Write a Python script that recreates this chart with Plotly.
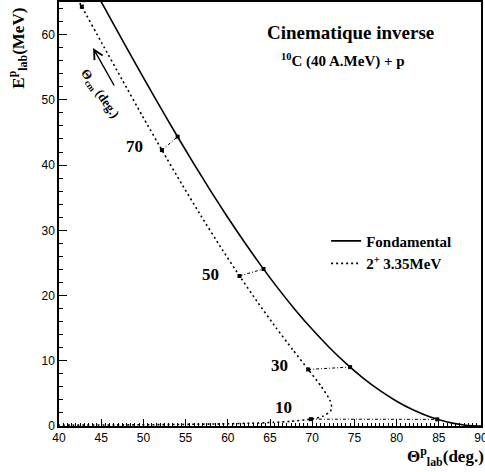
import plotly.graph_objects as go

# Ground-state (elastic) recoil proton: lab angle (deg) and lab energy (MeV)
theta_gs = [43, 44, 45, 46, 48, 50, 52, 54, 56, 58, 60, 62, 64, 66, 68, 70,
            72, 74, 76, 78, 80, 82, 84, 86, 88, 89, 90]
energy_gs = [69.74, 67.37, 65.03, 62.69, 58.02, 53.42, 48.88, 44.46, 40.15, 35.98,
             31.96, 28.12, 24.47, 21.02, 17.80, 14.82, 12.08, 9.60, 7.38, 5.45,
             3.80, 2.44, 1.37, 0.61, 0.15, 0.04, 0.0]

# 2+ 3.35 MeV state: both kinematic branches, ordered along the centre-of-mass angle
theta_ex = [35.66, 41.68, 46.64, 54.08, 59.20, 62.81, 65.43, 67.35, 69.85, 71.24,
            72.16, 72.31, 72.10, 71.06, 69.52, 67.70, 65.70, 63.59, 61.39, 59.14,
            56.85, 54.53, 52.19, 49.83, 47.47, 45.09, 42.71, 41.76]
energy_ex = [0.115, 0.137, 0.164, 0.232, 0.320, 0.428, 0.554, 0.701, 1.051, 1.478,
             2.263, 2.880, 3.946, 6.089, 8.674, 11.682, 15.091, 18.873, 23.001, 27.442,
             32.164, 37.131, 42.303, 47.643, 53.109, 58.660, 64.253, 66.49]

# Equal centre-of-mass angle points on each curve
theta_cm = [10, 30, 50, 70, 90]
cm_theta_gs = [84.81, 74.49, 64.23, 54.06, 44.00]
cm_energy_gs = [1.02, 9.03, 24.07, 44.36, 67.37]
cm_theta_ex = [69.85, 69.52, 61.39, 52.19, 42.71]
cm_energy_ex = [1.05, 8.67, 23.00, 42.30, 64.25]

# Where the theta_cm values are written
label_theta = [66.6, 66.1, 58.0, 49.0]
label_energy = [2.9, 9.2, 23.2, 42.9]

SERIF = "Liberation Serif"
SANS = "Liberation Sans"

fig = go.Figure()

fig.add_trace(go.Scatter(
    x=theta_gs, y=energy_gs, mode="lines", name="<b>Fondamental</b>",
    line=dict(color="black", width=1.6, shape="spline", smoothing=0.6),
))
fig.add_trace(go.Scatter(
    x=theta_ex, y=energy_ex, mode="lines", name="<b>2<sup>+</sup> 3.35MeV</b>",
    line=dict(color="black", width=1.6, dash="2px,3px", shape="spline", smoothing=0.6),
))

# dash-dot links joining equal theta_cm on the two curves
link_x, link_y = [], []
for xa, ya, xb, yb in zip(cm_theta_ex, cm_energy_ex, cm_theta_gs, cm_energy_gs):
    link_x += [xa, xb, None]
    link_y += [ya, yb, None]
fig.add_trace(go.Scatter(
    x=link_x, y=link_y, mode="lines", showlegend=False, hoverinfo="skip",
    line=dict(color="black", width=1, dash="3px,2px,1px,2px"),
))
fig.add_trace(go.Scatter(
    x=cm_theta_gs + cm_theta_ex, y=cm_energy_gs + cm_energy_ex, mode="markers",
    showlegend=False, cliponaxis=True,
    marker=dict(symbol="square", size=4, color="black"),
))


def note(x, y, text, size, angle=0, ref="paper"):
    fig.add_annotation(x=x, y=y, xref=ref, yref=ref, text=text, textangle=angle,
                       showarrow=False, xanchor="center", yanchor="middle",
                       font=dict(family=SERIF, size=size, color="black"))


for t, lx, ly in zip(theta_cm, label_theta, label_energy):
    note(lx, ly, f"<b>{t}</b>", 17, ref=None)

# centre-of-mass angle direction arrow and its caption
fig.add_annotation(x=0.0806, y=0.8915, xref="paper", yref="paper", text="",
                   showarrow=True, arrowhead=5, arrowsize=1.3, arrowwidth=1.4,
                   arrowcolor="black", ax=22, ay=39)
note(0.096, 0.785, "<b>Θ<sub>cm</sub> (deg.)</b>", 13, angle=55)

note(0.690, 0.929, "<b>Cinematique inverse</b>", 19)
note(0.673, 0.861, "<b><sup>10</sup>C (40 A.MeV) + p</b>", 15)

# axis titles
note(-0.097, 0.89, "<b>E<sup>p</sup><sub>lab</sub>(MeV)</b>", 17, angle=-90)
note(0.917, -0.073, "<b>Θ<sup>p</sup><sub>lab</sub>(deg.)</b>", 17)

axis_common = dict(
    showgrid=False, zeroline=False, showline=True, mirror=True,
    linecolor="black", linewidth=1.5, ticks="inside", tickcolor="black",
    tickwidth=1, tickfont=dict(family=SANS, size=12, color="black"),
    ticklabeloverflow="allow", automargin=False,
)
fig.update_xaxes(range=[40, 90], dtick=5, tick0=40, ticklen=7,
                 minor=dict(dtick=0.5, ticks="inside", ticklen=3, tickcolor="black"),
                 **axis_common)
fig.update_yaxes(range=[0, 65], dtick=10, tick0=0, ticklen=8,
                 minor=dict(dtick=2, ticks="inside", ticklen=4, tickcolor="black"),
                 **axis_common)

fig.update_layout(
    width=485, height=472,
    margin=dict(l=59, r=4, t=2, b=46, autoexpand=False),
    plot_bgcolor="white", paper_bgcolor="white",
    legend=dict(x=0.633, y=0.475, xanchor="left", yanchor="top",
                bgcolor="rgba(0,0,0,0)", font=dict(family=SERIF, size=15, color="black"),
                itemwidth=30, tracegroupgap=0),
)

fig.write_html("out.html")
